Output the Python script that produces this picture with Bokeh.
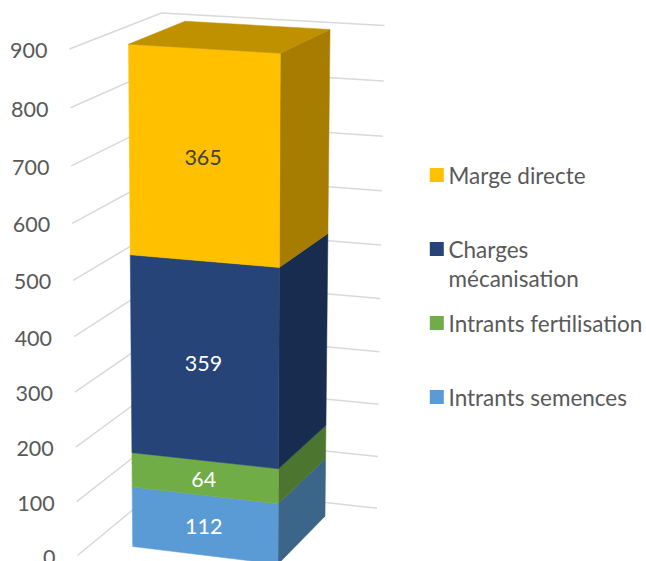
from bokeh.plotting import figure
from bokeh.core.properties import value
from bokeh.embed import file_html
from bokeh.resources import INLINE

# ---- data
series = ["Intrants semences", "Intrants fertilisation", "Charges mécanisation", "Marge directe"]
values = [112, 64, 359, 365]
ticks = [0, 100, 200, 300, 400, 500, 600, 700, 800, 900]

# ---- styles
front = ["#5B9BD5", "#70AD47", "#264478", "#FFC000"]
side = ["#3C6689", "#4C7530", "#172C4F", "#A67D00"]
top_col = "#BF9000"
label_col = ["#FFFFFF", "#FFFFFF", "#FFFFFF", "#404040"]
grid_col = "#D9D9D9"
text_col = "#595959"
FONT = "Lato"

# ---- oblique projection: each vertical edge of the 3D scene, as its screen
# position at value 0 and at the axis maximum, with a perspective ratio
VMAX = 900.0
WALL_FRONT = ((77.0, 555.0), (69.0, 48.5), 0.952)
WALL_BACK_L = ((163.0, 484.0), (161.0, 12.5), 0.96)
WALL_BACK_R = ((376.5, 507.7), (384.0, 25.0), 0.96)
BAR_FL = ((132.2, 546.0), (128.0, 43.7), 0.945)
BAR_FR = ((277.5, 563.7), (279.8, 52.7), 0.945)
BAR_BR = ((324.5, 515.7), (329.5, 29.0), 0.945)
BAR_BL_TOP = (184.5, 20.7)


def proj(edge, v):
    (x0, y0), (x1, y1), r = edge
    t = v / VMAX
    s = r * t / (1 - t + r * t) if t < 1 else 1.0
    return x0 + (x1 - x0) * s, y0 + (y1 - y0) * s


p = figure(width=646, height=561, x_range=(0, 646), y_range=(561, 0),
           output_backend="svg", toolbar_location=None, min_border=0)
p.axis.visible = False
p.grid.visible = False
p.outline_line_color = None
p.background_fill_color = "#FFFFFF"

# walls
for t in ticks:
    a, b, c = proj(WALL_FRONT, t), proj(WALL_BACK_L, t), proj(WALL_BACK_R, t)
    p.line([a[0], b[0], c[0]], [a[1], b[1], c[1]], line_color=grid_col, line_width=1.5)

# axis labels, set along the oblique front edge
lab_x = [proj(WALL_FRONT, t)[0] - 22 for t in ticks]
lab_y = [proj(WALL_FRONT, t)[1] + 1.5 for t in ticks]
p.text(lab_x, lab_y, text=[str(t) for t in ticks], text_font=value(FONT), text_font_size="21.5px",
       text_color=text_col, text_align="right", text_baseline="middle")

# stacked bar
base = 0
for v, f, s, lc in zip(values, front, side, label_col):
    hi = base + v
    a, b = proj(BAR_FL, base), proj(BAR_FR, base)
    c, d = proj(BAR_FR, hi), proj(BAR_FL, hi)
    e, g = proj(BAR_BR, base), proj(BAR_BR, hi)
    p.patch([b[0], e[0], g[0], c[0]], [b[1], e[1], g[1], c[1]], fill_color=s, line_color=s, line_width=0.5)
    p.patch([a[0], b[0], c[0], d[0]], [a[1], b[1], c[1], d[1]], fill_color=f, line_color=f, line_width=0.5)
    mid = base + v / 2
    m1, m2 = proj(BAR_FL, mid), proj(BAR_FR, mid)
    p.text([(m1[0] + m2[0]) / 2 - 1.5], [(m1[1] + m2[1]) / 2 + 1], text=[str(v)], text_font=value(FONT),
           text_font_size="21.5px", text_color=lc, text_align="center", text_baseline="middle")
    base = hi

# top face of the bar
tl, tr, br = proj(BAR_FL, base), proj(BAR_FR, base), proj(BAR_BR, base)
p.patch([tl[0], tr[0], br[0], BAR_BL_TOP[0]], [tl[1], tr[1], br[1], BAR_BL_TOP[1]],
        fill_color=top_col, line_color=top_col, line_width=0.5)

# legend
LEG_SWATCH_X = 436.3
LEG_TEXT_X = 448
LEG_Y = [396.5, 322.5, 248.5, 174.5]
LEG_LINES = [["Intrants semences"], ["Intrants fertilisation"], ["Charges", "mécanisation"], ["Marge directe"]]
LINE_H = 29.5
p.rect([LEG_SWATCH_X] * 4, LEG_Y, width=14, height=14, width_units="screen", height_units="screen",
       fill_color=front, line_color=None)
for y, lines in zip(LEG_Y, LEG_LINES):
    p.text([LEG_TEXT_X] * len(lines), [y + i * LINE_H for i in range(len(lines))], text=lines,
           text_font=value(FONT), text_font_size="22.5px", text_color=text_col,
           text_align="left", text_baseline="middle")

open("out.html", "w").write(file_html(p, INLINE))
